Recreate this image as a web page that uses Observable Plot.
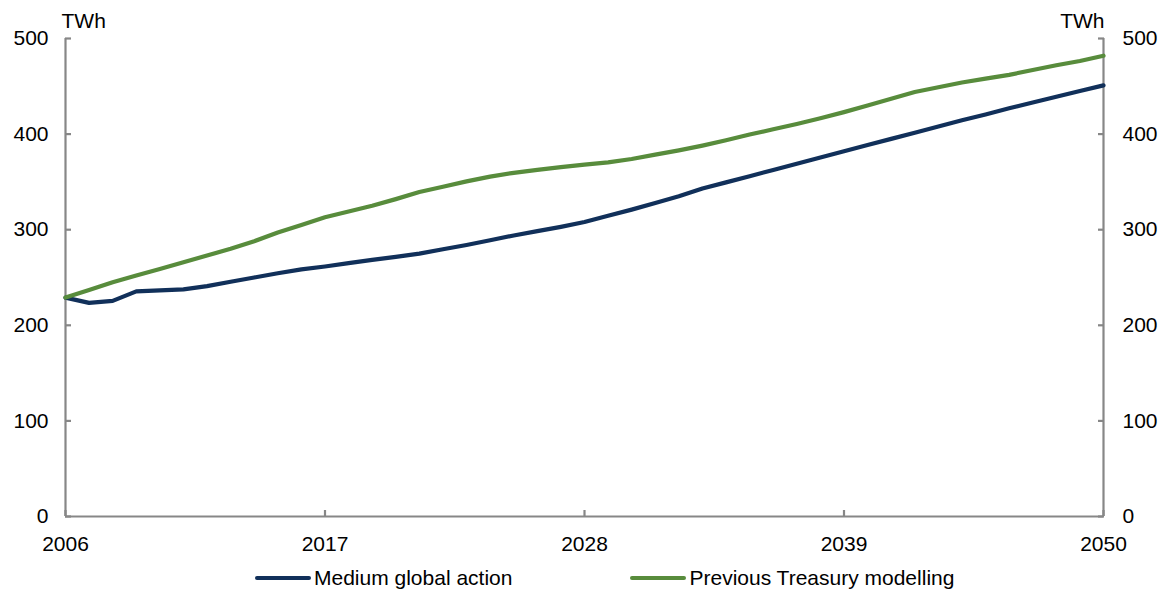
<!DOCTYPE html>
<html>
<head>
<meta charset="utf-8">
<script src="https://cdn.jsdelivr.net/npm/d3@7"></script>
<script src="https://cdn.jsdelivr.net/npm/@observablehq/plot@0.6"></script>
<style>
  body { margin: 0; background: #fff; font-family: "Liberation Sans", Arial, sans-serif; }
  #wrap { position: relative; width: 1166px; height: 592px; }
  #legend { position: absolute; top: 566px; left: 255px; display: flex; align-items: center; font-size: 21px; color: #000; white-space: nowrap; }
  .item { display: flex; align-items: center; }
  .sw { display: inline-block; width: 56px; height: 4px; margin-right: 3px; border-radius: 2px; }
</style>
</head>
<body>
<div id="wrap">
  <div id="chart"></div>
  <div id="legend"></div>
</div>
<script>
const years = d3.range(2006, 2051);
const seriesNames = ["Medium global action", "Previous Treasury modelling"];
const colors = ["#11305a", "#588c3c"];
const mediumGlobalAction = [
  229, 223.5, 225.5, 235.5, 236.5, 237.5, 241, 245.5, 250, 254.5,
  258.5, 261.5, 265, 268.5, 271.5, 275, 279.5, 284, 289, 294,
  298.5, 303, 308, 314.5, 321, 328, 335, 343, 349.5, 356,
  362.5, 369, 375.5, 382, 388.5, 395, 401.5, 408, 414.5, 420.5,
  427, 433, 439, 445, 451
];
const previousTreasury = [
  229, 237, 245, 252, 259, 266, 273, 280, 288, 297,
  305, 313, 319, 325, 332, 339.5, 345, 350.5, 355.5, 359.5,
  362.5, 365.5, 368, 370.5, 374, 378.5, 383, 388, 393.5, 399.5,
  405, 410.5, 416.5, 423, 430, 437, 444, 449, 454, 458,
  462, 467, 472, 476.5, 482
];
const xTicks = [2006, 2017, 2028, 2039, 2050];
const yTicks = [0, 100, 200, 300, 400, 500];
const unitLabel = "TWh";

const data = [];
years.forEach((y, i) => {
  data.push({year: y, value: mediumGlobalAction[i], series: seriesNames[0]});
  data.push({year: y, value: previousTreasury[i], series: seriesNames[1]});
});

const axisGray = "#878787";

const chart = Plot.plot({
  width: 1166,
  height: 560,
  marginLeft: 65,
  marginRight: 63,
  marginTop: 38,
  marginBottom: 44,
  style: {fontFamily: "'Liberation Sans', Arial, sans-serif", fontSize: "21px", color: "#000", background: "#fff"},
  x: {domain: [years[0], years[years.length - 1]]},
  y: {domain: [yTicks[0], yTicks[yTicks.length - 1]]},
  color: {domain: seriesNames, range: colors},
  marks: [
    // axis lines
    Plot.ruleX([years[0], years[years.length - 1]], {stroke: axisGray, strokeWidth: 2.2}),
    Plot.ruleY([yTicks[0]], {stroke: axisGray, strokeWidth: 2.2}),
    // inward ticks
    Plot.axisY({anchor: "left", ticks: yTicks, tickSize: 6, text: null, dx: 6, stroke: axisGray, strokeWidth: 2.2, label: null}),
    Plot.axisY({anchor: "right", ticks: yTicks, tickSize: 6, text: null, dx: -6, stroke: axisGray, strokeWidth: 2.2, label: null}),
    Plot.axisX({anchor: "bottom", ticks: xTicks, tickSize: 6, text: null, dy: -6, stroke: axisGray, strokeWidth: 2.2, label: null}),
    // labels
    Plot.axisY({anchor: "left", ticks: yTicks, tickSize: 0, tickPadding: 17, label: null, fill: "#000"}),
    Plot.axisY({anchor: "right", ticks: yTicks, tickSize: 0, tickPadding: 19, label: null, fill: "#000"}),
    Plot.axisX({anchor: "bottom", ticks: xTicks, tickSize: 0, tickPadding: 20, tickFormat: d => String(d), label: null, fill: "#000"}),
    Plot.text([unitLabel], {frameAnchor: "top-left", textAnchor: "start", dx: -4, dy: -25, fill: "#000"}),
    Plot.text([unitLabel], {frameAnchor: "top-right", textAnchor: "end", dx: 1, dy: -25, fill: "#000"}),
    // lines
    Plot.line(data, {x: "year", y: "value", z: "series", stroke: "series", strokeWidth: 4.2, curve: "linear"})
  ]
});
document.getElementById("chart").appendChild(chart);

const legend = document.getElementById("legend");
seriesNames.forEach((name, i) => {
  const item = document.createElement("div");
  item.className = "item";
  if (i > 0) item.style.marginLeft = "118px";
  const sw = document.createElement("span");
  sw.className = "sw";
  sw.style.background = colors[i];
  item.appendChild(sw);
  const t = document.createElement("span");
  t.textContent = name;
  item.appendChild(t);
  legend.appendChild(item);
});
</script>
</body>
</html>
